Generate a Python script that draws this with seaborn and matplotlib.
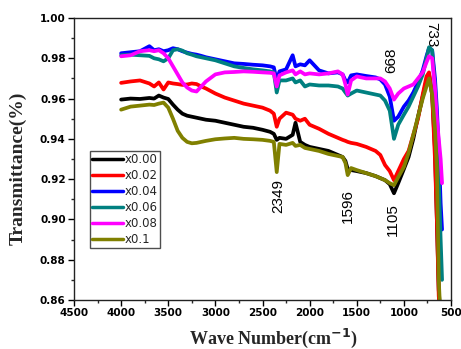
import numpy as np
import pandas as pd
import seaborn as sns
import matplotlib
matplotlib.use("Agg")
import matplotlib.pyplot as plt
from matplotlib.ticker import MultipleLocator, FormatStrFormatter

# Wavenumber grid (cm^-1) shared by all spectra
wavenumber = [4000, 3900, 3800, 3700, 3650, 3600, 3550, 3500, 3450, 3400,
              3350, 3300, 3250, 3200, 3150, 3100, 3000, 2900, 2800, 2700,
              2600, 2500, 2420, 2380, 2349, 2320, 2250, 2180, 2150, 2100,
              2050, 2000, 1900, 1800, 1700, 1650, 1620, 1596, 1560, 1500,
              1400, 1300, 1250, 1200, 1150, 1105, 1060, 1000, 950, 900,
              850, 800, 760, 733, 700, 670, 650, 630, 610, 595]

x000 = [.9595, .9600, .9598, .9603, .9600, .9615, .9605, .9598, .9570, .9545,
        .9525, .9515, .9510, .9505, .9500, .9495, .9490, .9480, .9470, .9460,
        .9455, .9445, .9435, .9425, .9395, .9405, .9400, .9420, .9480, .9385,
        .9370, .9360, .9350, .9340, .9320, .9310, .9290, .9250, .9245, .9240,
        .9230, .9215, .9205, .9195, .9175, .9130, .9180, .9250, .9310, .9400,
        .9510, .9610, .9690, .9720, .9620, .9350, .9000, .8650, .8500, .8500]

x002 = [.9678, .9685, .9690, .9675, .9660, .9680, .9645, .9680, .9675, .9672,
        .9668, .9670, .9675, .9672, .9660, .9650, .9625, .9605, .9590, .9575,
        .9565, .9555, .9540, .9525, .9460, .9500, .9530, .9520, .9500, .9490,
        .9500, .9470, .9450, .9425, .9405, .9395, .9390, .9385, .9380, .9375,
        .9360, .9340, .9320, .9270, .9240, .9195, .9240, .9300, .9340, .9420,
        .9500, .9620, .9710, .9730, .9620, .9300, .9000, .8620, .8500, .8500]

x004 = [.9825, .9830, .9835, .9860, .9840, .9845, .9835, .9840, .9850, .9845,
        .9835, .9828, .9822, .9818, .9812, .9805, .9795, .9785, .9775, .9772,
        .9768, .9765, .9760, .9755, .9690, .9735, .9745, .9815, .9760, .9770,
        .9765, .9790, .9740, .9725, .9730, .9720, .9690, .9680, .9715, .9720,
        .9712, .9705, .9695, .9670, .9610, .9490, .9510, .9560, .9590, .9630,
        .9680, .9740, .9810, .9850, .9840, .9700, .9550, .9350, .9080, .8950]

x006 = [.9815, .9818, .9815, .9812, .9800, .9795, .9785, .9800, .9840, .9845,
        .9838, .9825, .9818, .9810, .9805, .9800, .9790, .9775, .9760, .9752,
        .9745, .9740, .9735, .9730, .9630, .9690, .9690, .9700, .9680, .9690,
        .9660, .9670, .9665, .9665, .9660, .9650, .9630, .9615, .9625, .9640,
        .9630, .9620, .9615, .9590, .9540, .9400, .9470, .9520, .9560, .9610,
        .9660, .9720, .9800, .9855, .9840, .9650, .9450, .9200, .8900, .8700]

x008 = [.9810, .9815, .9835, .9840, .9835, .9840, .9825, .9800, .9760, .9720,
        .9680, .9655, .9640, .9635, .9660, .9685, .9720, .9730, .9732, .9735,
        .9733, .9730, .9728, .9725, .9660, .9715, .9730, .9740, .9720, .9735,
        .9720, .9725, .9720, .9725, .9735, .9720, .9670, .9620, .9690, .9710,
        .9700, .9700, .9700, .9685, .9650, .9595, .9625, .9650, .9660, .9670,
        .9700, .9730, .9780, .9810, .9800, .9650, .9500, .9400, .9300, .9180]

x010 = [.9545, .9560, .9565, .9570, .9568, .9575, .9580, .9555, .9500, .9440,
        .9405, .9385, .9378, .9380, .9385, .9390, .9398, .9402, .9405, .9400,
        .9398, .9395, .9390, .9385, .9235, .9375, .9370, .9380, .9365, .9370,
        .9355, .9350, .9340, .9325, .9315, .9310, .9280, .9220, .9255, .9245,
        .9230, .9215, .9205, .9195, .9180, .9170, .9210, .9260, .9330, .9420,
        .9510, .9600, .9660, .9700, .9620, .9450, .9250, .8700, .8500, .8500]

series_names = ["x0.00", "x0.02", "x0.04", "x0.06", "x0.08", "x0.1"]
series_values = [x000, x002, x004, x006, x008, x010]
series_colors = ["#000000", "#FF0000", "#0000FF", "#008080", "#FF00FF", "#808000"]

# Band assignments written on the plot: (text, x, y, rotation)
band_labels = [("2349", 2336, 0.9117, 90),
               ("1596", 1593, 0.9067, 90),
               ("1105", 1115, 0.8998, 90),
               ("668", 1137, 0.9792, 90),
               ("733", 712, 0.9916, 270)]

df = pd.concat(
    [pd.DataFrame({"wavenumber": wavenumber, "T": vals, "sample": name})
     for name, vals in zip(series_names, series_values)],
    ignore_index=True,
)

sns.set_style("ticks")
fig = plt.figure(figsize=(4.61, 3.49), dpi=100)
ax = fig.add_axes([74 / 461, 1 - 300 / 349, 377 / 461, 282 / 349])

sns.lineplot(data=df, x="wavenumber", y="T", hue="sample",
             palette=dict(zip(series_names, series_colors)),
             sort=False, estimator=None, linewidth=2.7, ax=ax)

ax.set_xlim(4500, 500)
ax.set_ylim(0.86, 1.00)
ax.xaxis.set_major_locator(MultipleLocator(500))
ax.xaxis.set_minor_locator(MultipleLocator(250))
ax.yaxis.set_major_locator(MultipleLocator(0.02))
ax.yaxis.set_minor_locator(MultipleLocator(0.01))
ax.yaxis.set_major_formatter(FormatStrFormatter("%.2f"))

ax.tick_params(which="major", direction="out", length=4, width=1,
               colors="#000000", labelsize=7.5, pad=2)
ax.tick_params(which="minor", direction="out", length=2.5, width=1)
for lab in ax.get_xticklabels() + ax.get_yticklabels():
    lab.set_fontweight("bold")
    lab.set_family("DejaVu Sans")

for sp in ax.spines.values():
    sp.set_visible(True)
    sp.set_linewidth(1.0)
    sp.set_color("#222222")

ax.set_xlabel("")
ax.set_ylabel("")
fig.text(273 / 461, 1 - 338 / 349, r"Wave Number(cm$^{\mathbf{-1}}$)",
         ha="center", va="center", fontsize=13, fontweight="bold",
         family="Liberation Serif")
fig.text(18 / 461, 1 - 168 / 349, "Transmittance(%)", rotation=90,
         ha="center", va="center", fontsize=14, fontweight="bold",
         family="Liberation Serif")

for text, xv, yv, rot in band_labels:
    ax.text(xv, yv, text, rotation=rot, ha="center", va="center",
            fontsize=11, family="Liberation Sans", color="#000000")

handles, labels = ax.get_legend_handles_labels()
leg = ax.legend(handles, labels, loc="upper left",
                bbox_to_anchor=(16 / 377, 149 / 282), borderaxespad=0,
                fancybox=False, frameon=True, edgecolor="#222222",
                prop={"family": "DejaVu Sans", "size": 8.5},
                handlelength=2.6, handletextpad=0.1, borderpad=0.2,
                labelspacing=0.25)
leg.get_frame().set_linewidth(1.0)
for ln in leg.get_lines():
    ln.set_linewidth(2.5)

fig.savefig("out.png", dpi=100)
